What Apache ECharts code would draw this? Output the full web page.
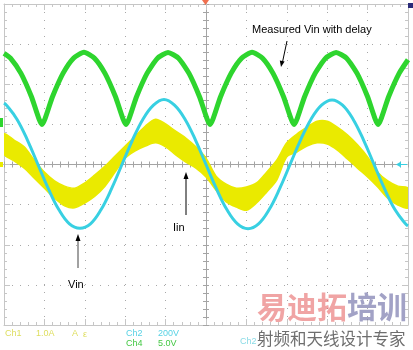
<!DOCTYPE html>
<html><head><meta charset="utf-8">
<script src="https://cdn.jsdelivr.net/npm/echarts@6/dist/echarts.min.js"></script>
<style>html,body{margin:0;padding:0;background:#fff}#c{width:413px;height:350px}</style>
</head><body><div id="c"></div>
<script>
// ---- data (x in horizontal divisions 0..10, y in vertical divisions -4..4) ----
const greenTime = [0,0.16,0.42,0.68,0.94,1.20,1.46,1.72,1.98,2.24,2.50,2.76,3.02,3.28,3.54,3.80,4.06,4.32,4.58,4.84,5.10,5.36,5.62,5.88,6.14,6.40,6.66,6.92,7.18,7.44,7.70,7.96,8.22,8.48,8.74,9.00,9.26,9.52,9.78,10.0];
const greenVals = [2.77,2.65,2.27,1.69,1.0,1.69,2.27,2.65,2.80,2.65,2.27,1.69,1.0,1.69,2.27,2.65,2.79,2.65,2.27,1.69,1.0,1.69,2.27,2.65,2.80,2.65,2.27,1.69,1.0,1.69,2.27,2.65,2.79,2.65,2.27,1.69,1.0,1.69,2.27,2.61];

const cyanTime = [0,0.06,0.32,0.58,0.84,1.10,1.36,1.62,1.88,2.14,2.40,2.66,2.92,3.18,3.44,3.70,3.96,4.22,4.48,4.74,5.00,5.26,5.52,5.78,6.04,6.30,6.56,6.82,7.08,7.34,7.60,7.86,8.12,8.38,8.64,8.90,9.16,9.42,9.68,9.94,10.0];
const cyanVals = [1.53,1.48,1.13,0.61,0,-0.61,-1.13,-1.48,-1.59,-1.48,-1.13,-0.61,0,0.61,1.13,1.48,1.62,1.48,1.13,0.61,0,-0.61,-1.13,-1.48,-1.60,-1.48,-1.13,-0.61,0,0.61,1.13,1.48,1.61,1.48,1.13,0.61,0,-0.61,-1.13,-1.48,-1.53];

const yellowTime = [0,0.25,0.5,0.75,1,1.25,1.5,1.75,2,2.25,2.5,2.75,3,3.25,3.5,3.75,4,4.25,4.5,4.75,5,5.25,5.5,5.75,6,6.25,6.5,6.75,7,7.25,7.5,7.75,8,8.25,8.5,8.75,9,9.25,9.5,9.75,10];
const yellowHigh = [0.76,0.61,0.44,0.11,-0.19,-0.41,-0.54,-0.59,-0.46,-0.26,-0.04,0.21,0.46,0.71,0.96,1.13,1.01,0.83,0.66,0.44,0.16,-0.29,-0.49,-0.59,-0.56,-0.46,-0.19,0.11,0.54,0.76,0.93,1.08,1.08,0.93,0.74,0.49,0.19,-0.19,-0.41,-0.54,-0.59];
const yellowLow = [0.26,0.09,-0.09,-0.34,-0.59,-0.84,-1.03,-1.08,-0.96,-0.79,-0.54,-0.19,0.16,0.34,0.46,0.54,0.44,0.24,0.06,-0.09,-0.31,-0.64,-0.93,-1.06,-1.14,-0.96,-0.69,-0.39,0.19,0.31,0.46,0.54,0.51,0.36,0.14,-0.09,-0.31,-0.56,-0.84,-1.01,-1.08];

const scaleLabels = [['Ch1','1.0A','A','\u03b5'],['Ch2','200V'],['Ch4','5.0V']];
const annotations = ['Measured Vin with delay','Vin','Iin'];

// ---- styles ----
const GREEN = '#2ed52e', CYAN = '#38d0e2', YELLOW = '#eaea00';
const FRAME = '#c6c6c6', CENTER = '#a4a4a4', DOT = '#a8a8a8';

function xAx(grid, pos, color, tickLen, split) {
  return {
    gridIndex: grid, type: 'value', min: 0, max: 10, interval: 1, position: pos,
    axisLine: {show: true, onZero: false, lineStyle: {color: color, width: 1}},
    axisTick: {show: true, inside: true, length: tickLen, lineStyle: {color: color}},
    minorTick: {show: true, splitNumber: 5, length: 3, lineStyle: {color: color}},
    axisLabel: {show: false},
    splitLine: {show: split, lineStyle: {color: DOT, type: [1, 7]}}
  };
}
function yAx(grid, pos, color, tickLen, split) {
  return {
    gridIndex: grid, type: 'value', min: -4, max: 4, interval: 1, position: pos,
    axisLine: {show: true, onZero: false, lineStyle: {color: color, width: 1}},
    axisTick: {show: true, inside: true, length: tickLen, lineStyle: {color: color}},
    minorTick: {show: true, splitNumber: 5, length: 3, lineStyle: {color: color}},
    axisLabel: {show: false},
    splitLine: {show: split, lineStyle: {color: DOT, type: [1, 7]}}
  };
}

const chart = echarts.init(document.getElementById('c'), null, {renderer: 'canvas'});
const font9 = '9px "Liberation Sans", Arial, sans-serif';
const font11 = '11px "Liberation Sans", Arial, sans-serif';

function renderBand(params, api) {
  const up = yellowTime.map((t, i) => api.coord([t, yellowHigh[i]]));
  const lo = yellowTime.map((t, i) => api.coord([t, yellowLow[i]])).reverse();
  const cs = params.coordSys;
  return {
    type: 'group',
    clipPath: {type: 'rect', shape: {x: cs.x, y: cs.y, width: cs.width, height: cs.height}},
    children: [{
      type: 'polygon',
      shape: {points: up.concat(lo), smooth: 0.3},
      style: {fill: YELLOW, stroke: YELLOW, lineWidth: 1.5}
    }]
  };
}

const option = {
  animation: false,
  backgroundColor: '#ffffff',
  grid: [
    {left: 4, top: 4, width: 404, height: 321},
    {left: 4, top: 4, width: 404, height: 160.5},
    {left: 4, top: 164.5, width: 404, height: 160.5},
    {left: 4, top: 4, width: 202, height: 321},
    {left: 206, top: 4, width: 202, height: 321}
  ],
  xAxis: [
    xAx(0, 'bottom', FRAME, 6, true),
    xAx(0, 'top', FRAME, 6, false),
    xAx(1, 'bottom', CENTER, 3, false),
    xAx(2, 'top', CENTER, 3, false),
    {gridIndex: 3, type: 'value', min: 0, max: 5, show: false},
    {gridIndex: 4, type: 'value', min: 5, max: 10, show: false}
  ],
  yAxis: [
    yAx(0, 'left', FRAME, 6, true),
    yAx(0, 'right', FRAME, 6, false),
    {gridIndex: 1, type: 'value', min: 0, max: 4, show: false},
    {gridIndex: 2, type: 'value', min: -4, max: 0, show: false},
    yAx(3, 'right', CENTER, 3, false),
    yAx(4, 'left', CENTER, 3, false)
  ],
  series: [
    {
      type: 'custom', name: 'Iin', coordinateSystem: 'cartesian2d',
      xAxisIndex: 0, yAxisIndex: 0, data: [[0, 0]],
      renderItem: renderBand, z: 3, silent: true
    },
    {
      type: 'line', name: 'Measured Vin with delay', xAxisIndex: 0, yAxisIndex: 0,
      data: greenTime.map((t, i) => [t, greenVals[i]]),
      smooth: 0.2, symbol: 'none', lineStyle: {color: GREEN, width: 5}, z: 4
    },
    {
      type: 'line', name: 'Vin', xAxisIndex: 0, yAxisIndex: 0,
      data: cyanTime.map((t, i) => [t, cyanVals[i]]),
      smooth: 0.4, symbol: 'none', lineStyle: {color: CYAN, width: 3}, z: 5
    }
  ],
  graphic: [
    // annotations
    {type: 'text', left: 252, top: 24, z: 20, style: {text: annotations[0], font: font11, fill: '#000'}},
    {type: 'line', z: 20, shape: {x1: 287, y1: 41, x2: 282.5, y2: 62}, style: {stroke: '#000', lineWidth: 1}},
    {type: 'polygon', z: 20, shape: {points: [[281, 67], [284.6, 61.6], [279.8, 60.6]]}, style: {fill: '#000'}},
    {type: 'text', left: 68, top: 279, z: 20, style: {text: annotations[1], font: font11, fill: '#000'}},
    {type: 'line', z: 20, shape: {x1: 78, y1: 268, x2: 78, y2: 240}, style: {stroke: '#444', lineWidth: 1}},
    {type: 'polygon', z: 20, shape: {points: [[78, 234], [75.5, 241], [80.5, 241]]}, style: {fill: '#000'}},
    {type: 'text', left: 173, top: 222, z: 20, style: {text: annotations[2], font: font11, fill: '#000'}},
    {type: 'line', z: 20, shape: {x1: 186, y1: 215, x2: 186, y2: 178}, style: {stroke: '#000', lineWidth: 1}},
    {type: 'polygon', z: 20, shape: {points: [[186, 172], [183.5, 179], [188.5, 179]]}, style: {fill: '#000'}},
    // channel markers
    {type: 'polygon', z: 20, shape: {points: [[202, 0], [209, 0], [205.5, 5]]}, style: {fill: '#f07050'}},
    {type: 'rect', z: 20, shape: {x: 408, y: 3, width: 5, height: 5}, style: {fill: '#2a2a78'}},
    {type: 'rect', z: 20, shape: {x: 0, y: 118, width: 3, height: 9}, style: {fill: GREEN}},
    {type: 'rect', z: 20, shape: {x: 0, y: 162, width: 3, height: 5}, style: {fill: YELLOW}},
    {type: 'polygon', z: 20, shape: {points: [[396, 164.5], [401, 161.5], [401, 167.5]]}, style: {fill: CYAN}},
    {type: 'line', z: 20, shape: {x1: 400, y1: 164.5, x2: 407, y2: 164.5}, style: {stroke: CYAN, lineWidth: 1}},
    // readout
    {type: 'text', left: 5, top: 329, style: {text: scaleLabels[0][0], font: font9, fill: '#dede5e'}},
    {type: 'text', left: 36, top: 329, style: {text: scaleLabels[0][1], font: font9, fill: '#dede5e'}},
    {type: 'text', left: 72, top: 329, style: {text: scaleLabels[0][2], font: font9, fill: '#dede5e'}},
    {type: 'text', left: 83, top: 330, style: {text: scaleLabels[0][3], font: font9, fill: '#dede5e'}},
    {type: 'text', left: 126, top: 329, style: {text: scaleLabels[1][0], font: font9, fill: '#58d2e4'}},
    {type: 'text', left: 158, top: 329, style: {text: scaleLabels[1][1], font: font9, fill: '#58d2e4'}},
    {type: 'text', left: 126, top: 339, style: {text: scaleLabels[2][0], font: font9, fill: '#44c844'}},
    {type: 'text', left: 158, top: 339, style: {text: scaleLabels[2][1], font: font9, fill: '#44c844'}},
    {type: 'text', left: 240, top: 337, style: {text: 'Ch2', font: font9, fill: '#8adbe6'}},
    // watermark
    {type: 'text', left: 257, top: 292, z: 30, style: {text: '易迪拓', font: 'bold 30px "Noto Sans CJK SC"', fill: 'rgba(228,90,90,0.55)'}},
    {type: 'text', left: 347, top: 292, z: 30, style: {text: '培训', font: 'bold 30px "Noto Sans CJK SC"', fill: 'rgba(100,100,160,0.6)'}},
    {type: 'text', left: 257, top: 330, z: 30, style: {text: '射频和天线设计专家', font: '16.5px "Noto Sans CJK SC"', fill: '#6e6e6e'}}
  ]
};
chart.setOption(option);
</script>
</body></html>
